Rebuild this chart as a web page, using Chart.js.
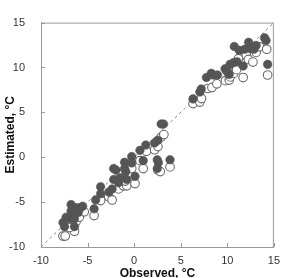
<!DOCTYPE html>
<html><head><meta charset="utf-8">
<script src="https://cdn.jsdelivr.net/npm/chart.js@4/dist/chart.umd.min.js"></script>
<style>html,body{margin:0;padding:0;background:#fff}canvas{display:block}</style>
</head><body>
<canvas id="c" width="287" height="278"></canvas>
<script>
const tickValues = [-10, -5, 0, 5, 10, 15];
const xTitle = 'Observed, °C';
const yTitle = 'Estimated, °C';
const diagX = [-10, 15];
const diagY = [-10, 15];

const filledX = [10.75, 11.27, 11.87, 12.29, 12.47, 12.85, 13.1, 14.0, 14.16, 14.33, 11.7,
  6.32, 7.05, 7.2, 7.76, 8.28, 8.5, 8.95, 9.76, 9.94, 10.2, 10.3, 10.7, 11.06,
  2.9, 3.15, 2.55, 2.2, 1.25, 0.62, -0.26, -0.26, 0.09, -1.03, -1.03, -0.9, 0.97,
  -2.2, -1.95, -1.5, -0.79, -2.2, -1.67, -3.6, -3.6, -2.37, -2.72, -4.13, -4.3,
  2.48, 2.48, 2.6, 3.85,
  -6.77, -6.4, -6.06, -5.53, -6.77, -6.41, -6.94, -7.3, -6.41, -7.64, -7.47, -6.41, -6.0, -5.9];
const filledY = [12.34, 11.92, 12.03, 12.8, 12.13, 12.03, 12.45, 13.3, 13.0, 10.35, 10.17,
  6.5, 7.27, 7.6, 8.88, 9.34, 9.16, 9.16, 9.86, 9.58, 9.23, 10.35, 10.56, 10.63,
  3.7, 3.7, 1.9, 1.6, 1.36, 0.77, 0.07, -0.63, -2.13, -0.56, -1.26, -1.6, -0.38,
  -1.26, -1.43, -2.3, -2.48, -2.48, -2.83, -3.29, -4.06, -3.53, -3.88, -4.76, -5.74,
  -0.28, -1.26, -0.6, -0.28,
  -5.28, -5.63, -5.63, -5.46, -5.98, -6.33, -6.85, -6.68, -6.85, -7.27, -7.73, -7.73, -6.15, -5.8];

const openX = [6.32, 7.05, 7.23, 7.9, 8.35, 8.88, 9.8, 10.2, 10.3, 10.7, 11.0, 11.2, 11.7, 12.05, 12.27, 12.75, 13.1, 13.45, 14.23, 14.33,
  -7.64, -7.4, -6.41, -6.94, -6.24, -5.89, -5.36, -4.3, -3.6, -2.72, -2.37, -1.67, -1.14, -0.79, 0.09, -0.26, 0.62, 0.97,
  1.32, 2.2, 2.55, 2.9, 3.19, 2.55, 2.8, 3.85, -0.96];
const openY = [5.98, 6.15, 6.54, 7.66, 7.76, 8.18, 8.53, 8.6, 8.95, 9.34, 9.76, 10.98, 8.88, 11.33, 10.9, 10.6, 11.68, 12.3, 12.03, 9.16,
  -8.78, -8.78, -8.25, -7.83, -7.2, -6.68, -6.08, -6.5, -4.83, -4.41, -4.76, -3.53, -3.18, -3.18, -2.93, -1.26, -0.38, -1.26,
  0.66, 0.84, 1.19, 2.24, 2.52, -1.43, -1.6, -1.08, -2.66];

const pts = (xs, ys) => xs.map((x, i) => ({x, y: ys[i]}));

const frame = {
  id: 'frame',
  afterDraw(chart) {
    const {ctx, chartArea: a, scales} = chart;
    ctx.save();
    ctx.strokeStyle = '#9a9a9a';
    ctx.lineWidth = 1;
    ctx.beginPath();
    ctx.moveTo(a.left, a.top + 0.5); ctx.lineTo(a.right, a.top + 0.5);
    ctx.moveTo(a.right - 0.5, a.top); ctx.lineTo(a.right - 0.5, a.bottom);
    tickValues.forEach(v => {
      const px = Math.round(scales.x.getPixelForValue(v)) + 0.5;
      ctx.moveTo(px, a.bottom); ctx.lineTo(px, a.bottom - 4);
      const py = Math.round(scales.y.getPixelForValue(v)) + 0.5;
      ctx.moveTo(a.left, py); ctx.lineTo(a.left + 4, py);
    });
    ctx.stroke();
    ctx.restore();
  }
};

const tickFont = {family: 'Liberation Sans, Arial', size: 11};
const titleFont = {family: 'Liberation Sans, Arial', size: 12, weight: 'bold', lineHeight: 1};

new Chart(document.getElementById('c'), {
  type: 'scatter',
  data: {
    datasets: [
      {label: 'filled', data: pts(filledX, filledY), pointRadius: 4.3, pointBackgroundColor: '#555555', pointBorderColor: '#555555', pointBorderWidth: 0.5, order: 1},
      {label: 'open', data: pts(openX, openY), pointRadius: 4.3, pointBackgroundColor: '#ffffff', pointBorderColor: '#6a6a6a', pointBorderWidth: 1.1, order: 2},
      {type: 'line', label: 'diag', data: pts(diagX, diagY), borderColor: '#8a8a8a', borderWidth: 1, borderDash: [3, 3], pointRadius: 0, order: 3}
    ]
  },
  options: {
    responsive: false,
    animation: false,
    events: [],
    layout: {padding: {left: 0, top: 8, right: 9, bottom: 0}},
    plugins: {legend: {display: false}, tooltip: {enabled: false}},
    scales: {
      x: {
        type: 'linear', min: -10, max: 15,
        afterFit(s) { s.height = 31; },
        ticks: {stepSize: 5, padding: 7, color: '#333', font: tickFont},
        grid: {drawOnChartArea: false, drawTicks: false},
        border: {color: '#9a9a9a', width: 1},
        title: {display: true, text: xTitle, color: '#111', font: titleFont, padding: {top: 0, bottom: -2}}
      },
      y: {
        type: 'linear', min: -10, max: 15,
        afterFit(s) { s.width = 41; },
        ticks: {stepSize: 5, padding: 16, color: '#333', font: tickFont},
        grid: {drawOnChartArea: false, drawTicks: false},
        border: {color: '#9a9a9a', width: 1},
        title: {display: true, text: yTitle, color: '#111', font: titleFont, padding: {top: 5, bottom: 0}}
      }
    }
  },
  plugins: [frame]
});
</script>
</body></html>
